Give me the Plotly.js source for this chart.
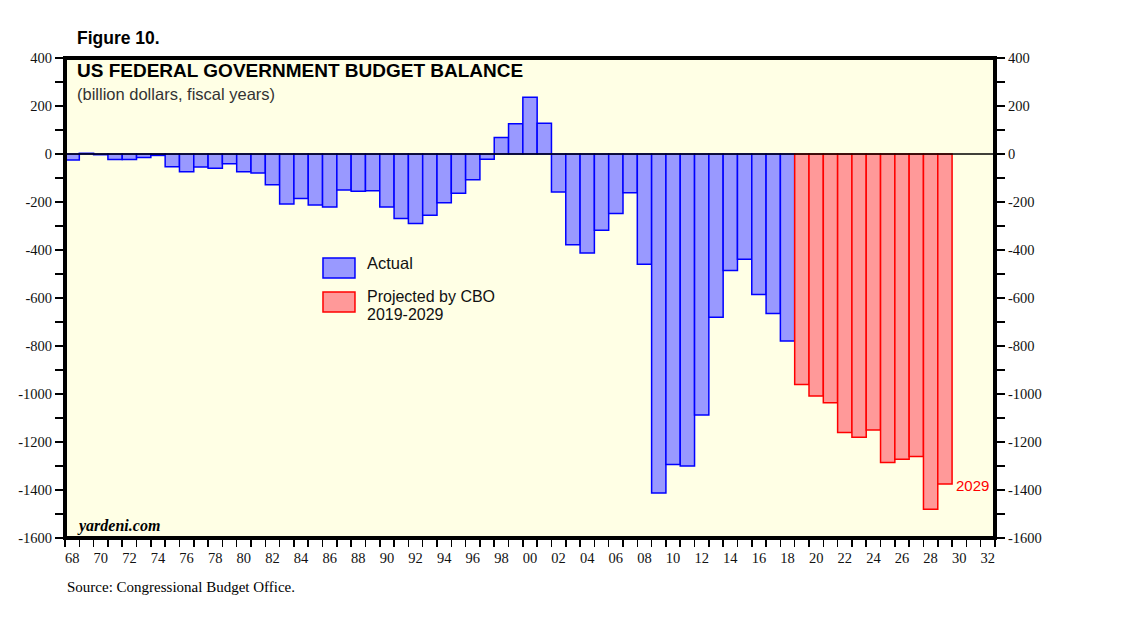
<!DOCTYPE html>
<html>
<head>
<meta charset="utf-8">
<script src="https://cdn.plot.ly/plotly-3.0.1.min.js"></script>
<style>html,body{margin:0;padding:0;background:#fff;}#chart{width:1138px;height:622px;}</style>
</head>
<body>
<div id="chart"></div>
<script>
var actualYears = [1968,1969,1970,1971,1972,1973,1974,1975,1976,1977,1978,1979,1980,1981,1982,1983,1984,1985,1986,1987,1988,1989,1990,1991,1992,1993,1994,1995,1996,1997,1998,1999,2000,2001,2002,2003,2004,2005,2006,2007,2008,2009,2010,2011,2012,2013,2014,2015,2016,2017,2018];
var actualValues = [-25,3,-3,-23,-23,-15,-6,-53,-74,-54,-59,-41,-74,-79,-128,-208,-185,-212,-221,-150,-155,-153,-221,-269,-290,-255,-203,-164,-107,-22,69,126,236,128,-158,-378,-413,-318,-248,-161,-459,-1413,-1294,-1300,-1087,-680,-485,-439,-585,-665,-779];
var projYears = [2019,2020,2021,2022,2023,2024,2025,2026,2027,2028,2029];
var projValues = [-960,-1008,-1036,-1160,-1180,-1150,-1285,-1272,-1260,-1480,-1375];
var xTickVals = [1968,1970,1972,1974,1976,1978,1980,1982,1984,1986,1988,1990,1992,1994,1996,1998,2000,2002,2004,2006,2008,2010,2012,2014,2016,2018,2020,2022,2024,2026,2028,2030,2032];
var xTickText = ['68','70','72','74','76','78','80','82','84','86','88','90','92','94','96','98','00','02','04','06','08','10','12','14','16','18','20','22','24','26','28','30','32'];
var yTickVals = [400,200,0,-200,-400,-600,-800,-1000,-1200,-1400,-1600];
var yTickText = ['400','200','0','-200','-400','-600','-800','-1000','-1200','-1400','-1600'];

var BLUE_FILL = '#9999ff', BLUE_LINE = '#0000ff';
var RED_FILL = '#ff9999', RED_LINE = '#ff0000';
var XR = [1967.5, 2032.5], YR = [-1600, 400];
var tickFont = {family: 'Liberation Serif, Times New Roman, serif', size: 14.5, color: '#111'};

var traces = [
  {type: 'bar', x: actualYears, y: actualValues, width: 1, name: 'Actual',
   marker: {color: BLUE_FILL, line: {color: BLUE_LINE, width: 1.5}},
   xaxis: 'x', yaxis: 'y', hoverinfo: 'x+y', showlegend: false},
  {type: 'bar', x: projYears, y: projValues, width: 1, name: 'Projected by CBO 2019-2029',
   marker: {color: RED_FILL, line: {color: RED_LINE, width: 1.5}},
   xaxis: 'x2', yaxis: 'y2', hoverinfo: 'x+y', showlegend: false}
];

var layout = {
  width: 1138, height: 622,
  margin: {l: 65, r: 143, t: 58, b: 84, pad: 0},
  paper_bgcolor: '#ffffff', plot_bgcolor: '#ffffe5',
  barmode: 'overlay', bargap: 0,
  showlegend: false,
  font: {family: 'Liberation Sans, Arial, sans-serif', color: '#111'},
  xaxis: {range: XR, tickmode: 'linear', tick0: 1967.5, dtick: 1, ticks: 'outside', ticklen: 8,
          tickwidth: 1.5, tickcolor: '#000', showticklabels: false, showgrid: false, zeroline: false,
          showline: false, fixedrange: true},
  xaxis2: {range: XR, overlaying: 'x', anchor: 'y2', side: 'bottom', tickmode: 'array',
           tickvals: xTickVals, ticktext: xTickText, ticks: '', tickfont: tickFont, ticklabelstandoff: 9,
           showgrid: false, zeroline: false, showline: false, fixedrange: true},
  yaxis: {range: YR, tickmode: 'array', tickvals: yTickVals, ticktext: yTickText,
          ticks: 'outside', ticklen: 9, tickwidth: 1.2, tickcolor: '#000', tickfont: tickFont,
          minor: {dtick: 100, tick0: 0, ticks: 'outside', ticklen: 9, tickwidth: 1.2, tickcolor: '#000', showgrid: false},
          showgrid: false, zeroline: false, showline: false, fixedrange: true},
  yaxis2: {range: YR, overlaying: 'y', anchor: 'x2', side: 'right', tickmode: 'array',
           tickvals: yTickVals, ticktext: yTickText,
           ticks: 'outside', ticklen: 9, tickwidth: 1.2, tickcolor: '#000', tickfont: tickFont,
           minor: {dtick: 100, tick0: 0, ticks: 'outside', ticklen: 9, tickwidth: 1.2, tickcolor: '#000', showgrid: false},
           showgrid: false, zeroline: false, showline: false, fixedrange: true},
  shapes: [
    {type: 'line', xref: 'paper', yref: 'y', x0: 0, x1: 1, y0: 0, y1: 0, line: {color: '#000', width: 1.5}, layer: 'above'},
    {type: 'rect', xref: 'paper', yref: 'paper', x0: 0, x1: 1, y0: 0, y1: 1, line: {color: '#000', width: 4}, layer: 'above'},
    {type: 'rect', xref: 'paper', yref: 'paper', x0: 0.2774, x1: 0.3118, y0: 0.5417, y1: 0.5833,
     fillcolor: BLUE_FILL, line: {color: BLUE_LINE, width: 1.5}, layer: 'above'},
    {type: 'rect', xref: 'paper', yref: 'paper', x0: 0.2774, x1: 0.3118, y0: 0.4708, y1: 0.5125,
     fillcolor: RED_FILL, line: {color: RED_LINE, width: 1.5}, layer: 'above'}
  ],
  annotations: [
    {xref: 'paper', yref: 'paper', x: 0.0108, y: 1.0417, xanchor: 'left', yanchor: 'middle', showarrow: false,
     text: '<b>Figure 10.</b>', font: {family: 'Liberation Sans, Arial, sans-serif', size: 17.5, color: '#000'}},
    {xref: 'paper', yref: 'paper', x: 0.0108, y: 0.973, xanchor: 'left', yanchor: 'middle', showarrow: false,
     text: '<b>US FEDERAL GOVERNMENT BUDGET BALANCE</b>', font: {family: 'Liberation Sans, Arial, sans-serif', size: 19, color: '#000'}},
    {xref: 'paper', yref: 'paper', x: 0.0108, y: 0.925, xanchor: 'left', yanchor: 'middle', showarrow: false,
     text: '(billion dollars, fiscal years)', font: {family: 'Liberation Sans, Arial, sans-serif', size: 16.5, color: '#333'}},
    {xref: 'paper', yref: 'paper', x: 0.0108, y: 0.025, xanchor: 'left', yanchor: 'middle', showarrow: false,
     text: '<b><i>yardeni.com</i></b>', font: {family: 'Liberation Serif, Times New Roman, serif', size: 16, color: '#000'}},
    {xref: 'paper', yref: 'paper', x: 0.3226, y: 0.573, xanchor: 'left', yanchor: 'middle', showarrow: false,
     text: 'Actual', font: {family: 'Liberation Sans, Arial, sans-serif', size: 16.5, color: '#111'}},
    {xref: 'paper', yref: 'paper', x: 0.3226, y: 0.5021, xanchor: 'left', yanchor: 'middle', showarrow: false,
     text: 'Projected by CBO', font: {family: 'Liberation Sans, Arial, sans-serif', size: 16, color: '#111'}},
    {xref: 'paper', yref: 'paper', x: 0.3226, y: 0.4646, xanchor: 'left', yanchor: 'middle', showarrow: false,
     text: '2019-2029', font: {family: 'Liberation Sans, Arial, sans-serif', size: 16, color: '#111'}},
    {xref: 'x2', yref: 'y2', x: projYears[projYears.length - 1] + 0.5, y: projValues[projValues.length - 1] - 5,
     xanchor: 'left', yanchor: 'middle', xshift: 2, showarrow: false,
     text: String(projYears[projYears.length - 1]), font: {family: 'Liberation Sans, Arial, sans-serif', size: 15, color: '#ff0000'}},
    {xref: 'paper', yref: 'paper', x: 0, y: -0.102, xanchor: 'left', yanchor: 'middle', showarrow: false,
     text: 'Source: Congressional Budget Office.', font: {family: 'Liberation Serif, Times New Roman, serif', size: 15, color: '#000'}}
  ]
};

Plotly.newPlot('chart', traces, layout, {displayModeBar: false, staticPlot: true});
</script>
</body>
</html>
